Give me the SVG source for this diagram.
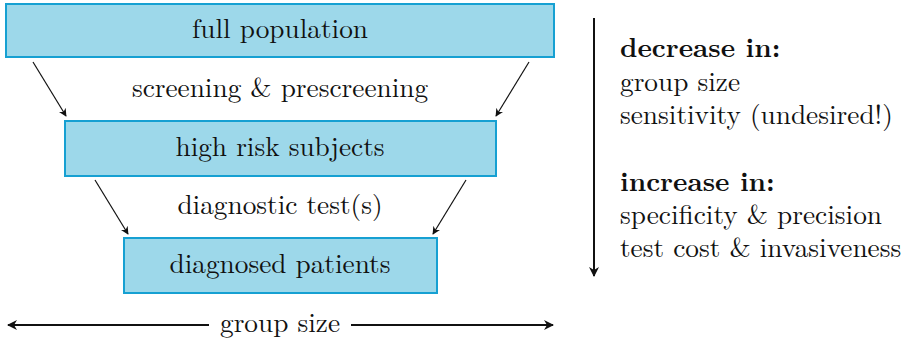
<svg xmlns="http://www.w3.org/2000/svg" width="908" height="340" viewBox="0 0 908 340">
<defs>
<style>
.box{fill:#9dd8ea;stroke:#16a0d2;stroke-width:2}
.t{font-family:"Latin Modern Roman","CMU Serif","Liberation Serif",serif;font-size:27.3px;fill:#111}
.b{font-weight:bold}
.c{stroke:#111;stroke-width:1.2;fill:none}
.c2{stroke:#111;stroke-width:2;fill:none}
</style>
<marker id="ah" viewBox="0 0 10 10" refX="9" refY="5" markerWidth="8" markerHeight="8" markerUnits="userSpaceOnUse" orient="auto"><path d="M0,0 L10,5 L0,10 L3,5 z" fill="#111"/></marker>
<marker id="ah2" viewBox="0 0 10 10" refX="9" refY="5" markerWidth="10" markerHeight="10" markerUnits="userSpaceOnUse" orient="auto"><path d="M0,0 L10,5 L0,10 L3,5 z" fill="#111"/></marker>
</defs>
<g id="full-population"><rect class="box" x="6" y="4" width="548" height="53"/><text class="t" x="280" y="38" text-anchor="middle">full population</text></g>
<g id="high-risk"><rect class="box" x="65" y="121" width="431" height="55"/><text class="t" x="280" y="156" text-anchor="middle">high risk subjects</text></g>
<g id="diagnosed"><rect class="box" x="124" y="238" width="313" height="55"/><text class="t" x="280" y="273" text-anchor="middle">diagnosed patients</text></g>
<g id="connectors">
<line class="c" x1="33" y1="62" x2="66" y2="116" marker-end="url(#ah)"/>
<line class="c" x1="529" y1="62" x2="496" y2="116" marker-end="url(#ah)"/>
<line class="c" x1="95" y1="180" x2="128" y2="234" marker-end="url(#ah)"/>
<line class="c" x1="466" y1="180" x2="433" y2="234" marker-end="url(#ah)"/>
<line class="c2" x1="594" y1="18" x2="594" y2="276" marker-end="url(#ah2)"/>
<line class="c2" x1="209" y1="325" x2="8" y2="325" marker-end="url(#ah2)"/>
<line class="c2" x1="351" y1="325" x2="553" y2="325" marker-end="url(#ah2)"/>
</g>
<g id="labels">
<text class="t" x="280" y="97" text-anchor="middle">screening &amp; prescreening</text>
<text class="t" x="280" y="214" text-anchor="middle">diagnostic test(s)</text>
<text class="t" x="280" y="332" text-anchor="middle">group size</text>
<text class="t b" x="620" y="57">decrease in:</text>
<text class="t" x="620" y="91">group size</text>
<text class="t" x="620" y="124">sensitivity (undesired!)</text>
<text class="t b" x="620" y="191">increase in:</text>
<text class="t" x="620" y="224">specificity &amp; precision</text>
<text class="t" x="620" y="257">test cost &amp; invasiveness</text>
</g>
</svg>
